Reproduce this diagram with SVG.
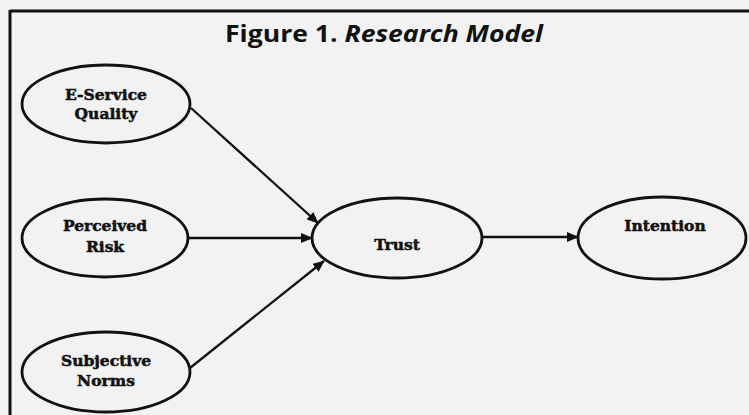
<svg xmlns="http://www.w3.org/2000/svg" width="749" height="415" viewBox="0 0 749 415">
<defs>
<style>
.node ellipse{fill:none;stroke:#111;stroke-width:2.8}
.lbl{font-family:"DejaVu Serif","Liberation Serif",serif;font-weight:bold;font-size:15.5px;fill:#111;stroke:#111;stroke-width:0.5;text-anchor:middle}
.edge{stroke:#111;stroke-width:2.3;fill:none;marker-end:url(#ah)}
.title{font-family:"Open Sans","Liberation Sans",sans-serif;font-weight:bold;font-size:23px;fill:#111}
</style>
<marker id="ah" viewBox="0 0 12 10" refX="11" refY="5" markerWidth="12" markerHeight="10" markerUnits="userSpaceOnUse" orient="auto">
<path d="M0,0 L12,5 L0,10 Z" fill="#111"/>
</marker>
</defs>
<rect x="0" y="0" width="749" height="415" fill="#f2f2f2"/>
<g id="frame">
<line x1="10" y1="11" x2="749" y2="11" stroke="#111" stroke-width="3"/>
<line x1="10" y1="10" x2="10" y2="415" stroke="#111" stroke-width="3"/>
</g>
<text id="title" class="title" x="225" y="42" textLength="318" lengthAdjust="spacingAndGlyphs">Figure 1. <tspan font-style="italic">Research Model</tspan></text>
<g id="connectors">
<line class="edge" x1="191" y1="108" x2="318" y2="223"/>
<line class="edge" x1="188" y1="238" x2="312" y2="238"/>
<line class="edge" x1="190" y1="368" x2="324" y2="261"/>
<line class="edge" x1="483" y1="237" x2="578" y2="237"/>
</g>
<g id="eservice" class="node">
<ellipse cx="106" cy="104" rx="84" ry="39"/>
<text class="lbl" x="106" y="100">E-Service</text>
<text class="lbl" x="106" y="119">Quality</text>
</g>
<g id="risk" class="node">
<ellipse cx="105" cy="238" rx="83" ry="39"/>
<text class="lbl" x="105" y="231">Perceived</text>
<text class="lbl" x="105" y="252">Risk</text>
</g>
<g id="norms" class="node">
<ellipse cx="106" cy="372" rx="84" ry="40"/>
<text class="lbl" x="106" y="366">Subjective</text>
<text class="lbl" x="106" y="386">Norms</text>
</g>
<g id="trust" class="node">
<ellipse cx="397" cy="238" rx="85" ry="40"/>
<text class="lbl" x="397" y="250">Trust</text>
</g>
<g id="intention" class="node">
<ellipse cx="662" cy="238" rx="84" ry="41"/>
<text class="lbl" x="665" y="231">Intention</text>
</g>
</svg>
